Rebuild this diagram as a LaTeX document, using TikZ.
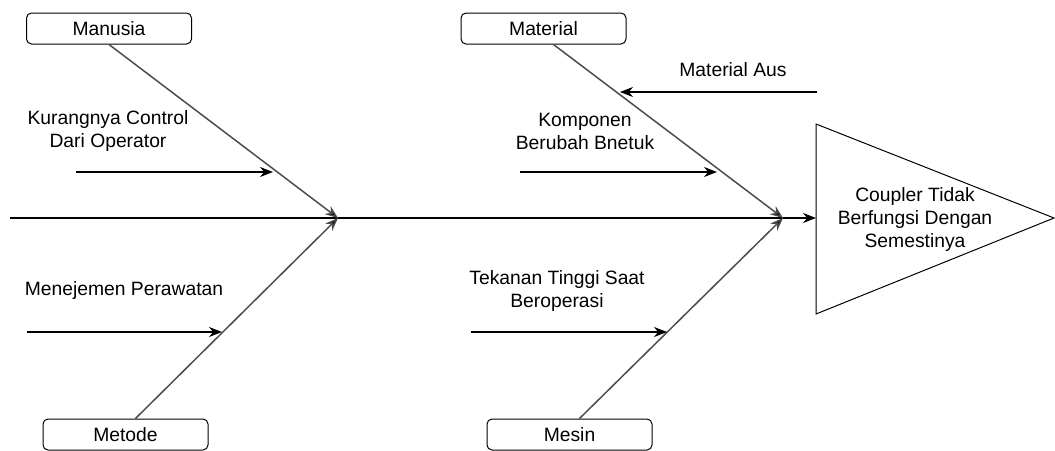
\documentclass[tikz,border=0pt]{standalone}
\usepackage{fontspec}
\setmainfont{Liberation Sans}
\usetikzlibrary{arrows.meta,calc}
\begin{document}
\begin{tikzpicture}[x=1pt,y=-1pt,
  catbox/.style={draw,line width=1pt,rounded corners=5pt,minimum width=165pt,minimum height=31pt,inner sep=0pt,font=\fontsize{19.3}{23}\selectfont},
  lbl/.style={align=center,inner sep=0pt,font=\fontsize{19.3}{23}\selectfont},
  bone/.style={draw=black!70,line width=1.5pt,-{Stealth[length=13pt,width=10pt,fill=black]}},
  cause/.style={draw,line width=1.4pt,-{Stealth[length=13pt,width=10pt]}},
  spine/.style={draw,line width=1.4pt}]
\useasboundingbox (0,0) rectangle (1055,450);
% category boxes
\node[catbox] (manusia) at (109,28.5) {Manusia};
\node[catbox] (material) at (543.5,28.5) {Material};
\node[catbox] (metode) at (125.5,434.5) {Metode};
\node[catbox] (mesin) at (569.5,434.5) {Mesin};
% effect triangle
\coordinate (tl) at (816,124);
\coordinate (tb) at (816,314);
\coordinate (tip) at (1054,218);
\coordinate (tw) at (816,218);
\draw[line width=1pt] (tl) -- (tip) -- (tb) -- cycle;
\node[lbl] (effect) at (915,220) {Coupler Tidak\\Berfungsi Dengan\\Semestinya};
% spine
\coordinate (start) at (10,218);
\coordinate (j1) at (338,218);
\coordinate (j2) at (783,218);
\draw[spine] (start) -- (j2);
\draw[cause] (j2) -- (tw);
% bones
\draw[bone] (manusia.south) -- (j1);
\draw[bone] ($(metode.north)+(10,0)$) -- (j1);
\draw[bone] ($(material.south)+(10,0)$) -- (j2);
\draw[bone] ($(mesin.north)+(10,0)$) -- (j2);
% causes
\node[lbl] (c1) at (108,131.5) {Kurangnya Control\\Dari Operator};
\coordinate (c1s) at (76,172);
\coordinate (c1e) at (273,172);
\draw[cause] (c1s) -- (c1e);
\node[lbl] (c2) at (124,291) {Menejemen Perawatan};
\coordinate (c2s) at (27,332);
\coordinate (c2e) at (222,332);
\draw[cause] (c2s) -- (c2e);
\node[lbl] (c3) at (733,70) {Material Aus};
\coordinate (c3s) at (817,92);
\coordinate (c3e) at (620,92);
\draw[cause] (c3s) -- (c3e);
\node[lbl] (c4) at (585,131.5) {Komponen\\Berubah Bnetuk};
\coordinate (c4s) at (520,172);
\coordinate (c4e) at (717,172);
\draw[cause] (c4s) -- (c4e);
\node[lbl] (c5) at (557,291.5) {Tekanan Tinggi Saat\\Beroperasi};
\coordinate (c5s) at (471,332);
\coordinate (c5e) at (667,332);
\draw[cause] (c5s) -- (c5e);
\end{tikzpicture}
\end{document}
